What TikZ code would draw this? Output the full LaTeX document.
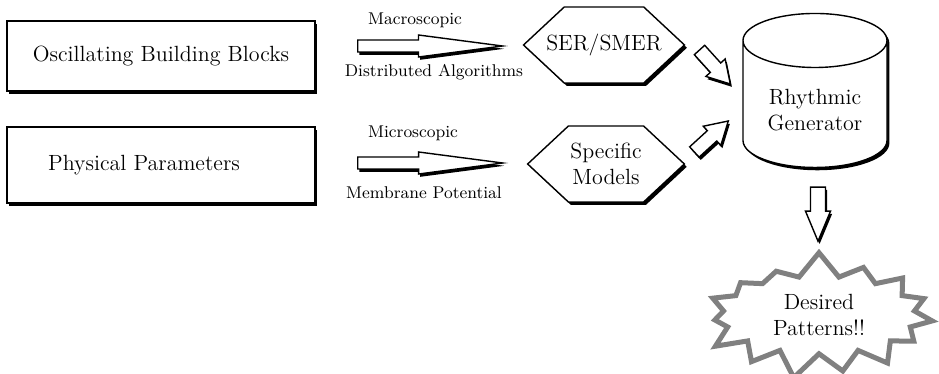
\documentclass[tikz,border=0pt]{standalone}
\usetikzlibrary{calc,positioning,shapes.geometric,shapes.symbols,shadows}
\tikzset{
  hard shadow/.style={drop shadow={shadow xshift=1.2pt,shadow yshift=-1.4pt,opacity=1,fill=black}},
  block/.style={draw,line width=0.7pt,fill=white,hard shadow,minimum width=154pt,
    minimum height=#1,font=\fontsize{11}{13}\selectfont},
  block/.default=35pt,
  hexa/.style={signal,signal to=west and east,signal pointer angle=86,draw,line width=0.7pt,
    fill=white,hard shadow,inner xsep=-9pt,minimum height=38pt,align=center,
    font=\fontsize{11}{13}\selectfont},
  drum/.style={cylinder,shape border rotate=90,aspect=0.5,draw,line width=0.7pt,fill=white,
    hard shadow,minimum width=72pt,minimum height=77pt,align=center,
    font=\fontsize{11}{13}\selectfont},
  burst/.style={starburst,starburst points=15,starburst point height=13pt,random starburst=7,
    draw=black!50,line width=2.5pt,fill=white,minimum width=122pt,minimum height=56pt,
    align=center,font=\fontsize{11}{13}\selectfont},
  tag/.style={font=\fontsize{8.5}{10}\selectfont},
  % hollow block arrow: shaft half width, head half width, head length
  fat/.style n args={3}{to path={let \p1=($(\tikztotarget)!#3!(\tikztostart)$) in
      ($(\tikztostart)!#1!90:(\tikztotarget)$) -- ($(\p1)!#1!90:(\tikztotarget)$)
      -- ($(\p1)!#2!90:(\tikztotarget)$) -- (\tikztotarget)
      -- ($(\p1)!#2!-90:(\tikztotarget)$) -- ($(\p1)!#1!-90:(\tikztotarget)$)
      -- ($(\tikztostart)!#1!-90:(\tikztotarget)$) -- cycle},
    draw,line width=0.7pt,fill=white,
    preaction={fill=black,transform canvas={xshift=0.8pt,yshift=-1.4pt}}},
}
\begin{document}
\begin{tikzpicture}[x=0.5pt,y=-0.5pt]
  \useasboundingbox (0,0) rectangle (939,374);
  % left inputs
  \node[block] (ob) at (161,56) {Oscillating Building Blocks};
  \node[block=38pt] (pp) at (161,165) {Physical Parameters\hspace*{17pt}};
  % middle
  \node[hexa] (ser) at (604,45) {SER/SMER};
  \node[hexa,inner xsep=1pt] (sm) at (606,164) {Specific\\Models};
  % right
  \node[drum] (rg) at (815,110) {Rhythmic\\Generator};
  \node[burst] (dp) at (819,315) {Desired\\Patterns!!};

  \coordinate (m1s) at ($(ob.east)+(42,-10)$);
  \coordinate (m1e) at ($(ser.west)+(-20,1)$);
  \coordinate (m2s) at ($(pp.east)+(42,-2)$);
  \coordinate (m2e) at ($(sm.west)+(-24,-1)$);
  \coordinate (a1s) at ($(ser.east)+(14,5)$);
  \coordinate (a1e) at ($(rg.west)+(-12,-26)$);
  \coordinate (a2s) at ($(sm.east)+(9,-12)$);
  \coordinate (a2e) at ($(rg.west)+(-14,11)$);
  \coordinate (d1s) at ($(rg.south)+(3,19)$);
  \coordinate (d1e) at ($(rg.south)+(3,73)$);

  \draw[fat={3pt}{5.5pt}{42pt}] (m1s) to (m1e);
  \draw[fat={3pt}{5.5pt}{42pt}] (m2s) to (m2e);
  \draw[fat={3.5pt}{6.5pt}{11pt}] (a1s) to (a1e);
  \draw[fat={3.5pt}{6.5pt}{11pt}] (a2s) to (a2e);
  \draw[fat={3.75pt}{6.25pt}{15pt}] (d1s) to (d1e);

  \node[tag] (mac) at (415,20) {Macroscopic};
  \node[tag] (dist) at (434,72) {Distributed Algorithms};
  \node[tag] (mic) at (413,133) {Microscopic};
  \node[tag] (mem) at (424,193) {Membrane Potential};
\end{tikzpicture}
\end{document}
